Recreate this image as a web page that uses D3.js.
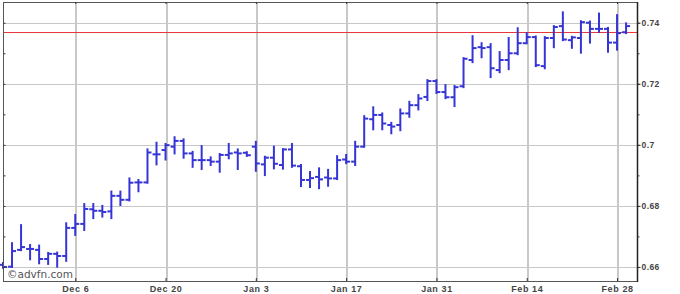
<!DOCTYPE html>
<html>
<head>
<meta charset="utf-8">
<script src="https://cdn.jsdelivr.net/npm/d3@7"></script>
<style>
  body { margin: 0; background: #fff; }
  svg { display: block; font-family: "Liberation Sans", Arial, sans-serif; }
</style>
</head>
<body>
<div id="chart"></div>
<script>
// trading days run Nov 24 2021 .. Mar 1 2022 (weekdays only)
const firstDay = "2021-11-24";
const lastDay = "2022-03-01";

const opens = [
  0.6607, 0.6601, 0.6656, 0.6659, 0.6656, 0.6626, 0.6643, 0.6636, 0.6728, 0.6741,
  0.6789, 0.6784, 0.6782, 0.6833, 0.6820, 0.6877, 0.6877, 0.6969, 0.6983, 0.6994,
  0.7013, 0.6972, 0.6950, 0.6950, 0.6945, 0.6967, 0.6975, 0.6974, 0.6994, 0.6936,
  0.6958, 0.6934, 0.6985, 0.6930, 0.6885, 0.6895, 0.6893, 0.6890, 0.6952, 0.6945,
  0.6994, 0.7084, 0.7098, 0.7065, 0.7065, 0.7103, 0.7130, 0.7157, 0.7209, 0.7173,
  0.7156, 0.7192, 0.7278, 0.7320, 0.7320, 0.7245, 0.7278, 0.7300, 0.7333, 0.7353,
  0.7258, 0.7350, 0.7389, 0.7343, 0.7350, 0.7400, 0.7380, 0.7380, 0.7335, 0.7369
];
const highs = [
  0.6613, 0.6678, 0.6737, 0.6672, 0.6670, 0.6646, 0.6647, 0.6743, 0.6770, 0.6806,
  0.6806, 0.6800, 0.6847, 0.6847, 0.6890, 0.6885, 0.6985, 0.7007, 0.7003, 0.7025,
  0.7018, 0.6977, 0.6996, 0.6959, 0.6970, 0.7003, 0.6985, 0.6976, 0.7010, 0.6961,
  0.6994, 0.6986, 0.7003, 0.6934, 0.6911, 0.6923, 0.6918, 0.6963, 0.6967, 0.7010,
  0.7094, 0.7123, 0.7103, 0.7072, 0.7116, 0.7141, 0.7163, 0.7212, 0.7212, 0.7196,
  0.7193, 0.7284, 0.7356, 0.7333, 0.7330, 0.7304, 0.7350, 0.7382, 0.7366, 0.7355,
  0.7353, 0.7389, 0.7434, 0.7354, 0.7405, 0.7404, 0.7430, 0.7383, 0.7425, 0.7398
];
const lows = [
  0.6597, 0.6600, 0.6655, 0.6625, 0.6612, 0.6610, 0.6601, 0.6620, 0.6705, 0.6721,
  0.6760, 0.6765, 0.6760, 0.6803, 0.6818, 0.6848, 0.6876, 0.6936, 0.6952, 0.6972,
  0.6958, 0.6928, 0.6921, 0.6934, 0.6912, 0.6956, 0.6921, 0.6964, 0.6915, 0.6901,
  0.6923, 0.6922, 0.6928, 0.6865, 0.6862, 0.6858, 0.6866, 0.6888, 0.6940, 0.6934,
  0.6994, 0.7051, 0.7051, 0.7038, 0.7048, 0.7092, 0.7116, 0.7147, 0.7170, 0.7153,
  0.7127, 0.7189, 0.7271, 0.7287, 0.7222, 0.7238, 0.7248, 0.7297, 0.7333, 0.7258,
  0.7251, 0.7320, 0.7343, 0.7318, 0.7302, 0.7335, 0.7370, 0.7305, 0.7312, 0.7366
];
const closes = [
  0.6600, 0.6652, 0.6665, 0.6659, 0.6626, 0.6643, 0.6636, 0.6728, 0.6741, 0.6790,
  0.6784, 0.6780, 0.6833, 0.6820, 0.6876, 0.6877, 0.6975, 0.6969, 0.6999, 0.7013,
  0.6972, 0.6950, 0.6950, 0.6945, 0.6967, 0.6972, 0.6972, 0.6966, 0.6939, 0.6958,
  0.6938, 0.6985, 0.6932, 0.6885, 0.6891, 0.6887, 0.6890, 0.6950, 0.6945, 0.6994,
  0.7086, 0.7098, 0.7070, 0.7060, 0.7103, 0.7130, 0.7152, 0.7209, 0.7173, 0.7156,
  0.7189, 0.7282, 0.7317, 0.7317, 0.7251, 0.7278, 0.7300, 0.7333, 0.7353, 0.7261,
  0.7350, 0.7386, 0.7345, 0.7352, 0.7402, 0.7380, 0.7380, 0.7335, 0.7366, 0.7389
];

const tickDates = ["2021-12-06", "2021-12-20", "2022-01-03", "2022-01-17", "2022-01-31", "2022-02-14", "2022-02-28"];
const tickLabels = ["Dec 6", "Dec 20", "Jan 3", "Jan 17", "Jan 31", "Feb 14", "Feb 28"];
const yTicks = [0.66, 0.68, 0.7, 0.72, 0.74];
const yMinor = [0.66, 0.67, 0.68, 0.69, 0.7, 0.71, 0.72, 0.73, 0.74];
const refPrice = 0.7369;

const width = 680;
const height = 294;
const plot = { left: 3, right: 637, top: 2, bottom: 281 };

const fmtDay = d3.timeFormat("%Y-%m-%d");
const days = d3.timeDay
  .range(new Date(firstDay + "T00:00"), d3.timeDay.offset(new Date(lastDay + "T00:00"), 1))
  .filter((d) => d.getDay() !== 0 && d.getDay() !== 6)
  .map(fmtDay);

const data = days.map((day, i) => ({
  day,
  open: opens[i],
  high: highs[i],
  low: lows[i],
  close: closes[i],
}));

const step = 9.03;
const x = d3
  .scalePoint()
  .domain(days)
  .range([plot.left, plot.left + step * (days.length - 1)]);

const y = d3
  .scaleLinear()
  .domain([0.6554, 0.7468])
  .range([plot.bottom, plot.top]);

const svg = d3
  .select("#chart")
  .append("svg")
  .attr("width", width)
  .attr("height", height);

svg.append("rect").attr("width", width).attr("height", height).attr("fill", "#fff");

// grid
svg
  .append("g")
  .selectAll("line")
  .data(yTicks)
  .join("line")
  .attr("x1", plot.left)
  .attr("x2", plot.right)
  .attr("y1", (d) => Math.round(y(d)) + 0.5)
  .attr("y2", (d) => Math.round(y(d)) + 0.5)
  .attr("stroke", "#c8c8c8")
  .attr("stroke-width", 1);

svg
  .append("g")
  .selectAll("line")
  .data(tickDates)
  .join("line")
  .attr("x1", (d) => Math.round(x(d)) + 1)
  .attr("x2", (d) => Math.round(x(d)) + 1)
  .attr("y1", plot.top)
  .attr("y2", plot.bottom)
  .attr("stroke", "#c8c8c8")
  .attr("stroke-width", 2);

// reference price line
svg
  .append("line")
  .attr("x1", plot.left)
  .attr("x2", plot.right)
  .attr("y1", Math.round(y(refPrice)) + 0.5)
  .attr("y2", Math.round(y(refPrice)) + 0.5)
  .attr("stroke", "#e8383c")
  .attr("stroke-width", 1.2);

// OHLC bars
const bars = svg.append("g").attr("stroke", "#3535d6").attr("stroke-width", 2);

bars
  .selectAll(".hl")
  .data(data)
  .join("line")
  .attr("class", "hl")
  .attr("x1", (d) => x(d.day))
  .attr("x2", (d) => x(d.day))
  .attr("y1", (d) => y(d.high) - 1)
  .attr("y2", (d) => y(d.low) + 1);

bars
  .selectAll(".op")
  .data(data)
  .join("line")
  .attr("class", "op")
  .attr("x1", (d) => x(d.day) - 4)
  .attr("x2", (d) => x(d.day))
  .attr("y1", (d) => y(d.open))
  .attr("y2", (d) => y(d.open));

bars
  .selectAll(".cl")
  .data(data)
  .join("line")
  .attr("class", "cl")
  .attr("x1", (d) => x(d.day))
  .attr("x2", (d) => x(d.day) + 4)
  .attr("y1", (d) => y(d.close))
  .attr("y2", (d) => y(d.close));

// frame
svg
  .append("rect")
  .attr("x", plot.left + 0.5)
  .attr("y", plot.top + 0.5)
  .attr("width", plot.right - plot.left)
  .attr("height", plot.bottom - plot.top)
  .attr("fill", "none")
  .attr("stroke", "#555")
  .attr("stroke-width", 1);

svg
  .append("line")
  .attr("x1", plot.right + 0.5)
  .attr("x2", plot.right + 0.5)
  .attr("y1", plot.top)
  .attr("y2", plot.bottom + 1)
  .attr("stroke", "#222")
  .attr("stroke-width", 1.5);

// right axis
const yAxis = svg
  .append("g")
  .attr("transform", `translate(${plot.right + 0.5},0)`)
  .call(
    d3.axisRight(y).tickValues(yTicks).tickSize(3).tickPadding(1).tickFormat(d3.format("~g"))
  );
yAxis.select(".domain").remove();
yAxis.selectAll(".tick line").attr("stroke", "#333");
yAxis
  .selectAll(".tick text")
  .attr("font-family", "'Liberation Sans', Arial, sans-serif")
  .attr("font-size", 8.5)
  .attr("font-weight", "bold")
  .attr("fill", "#444")
  .attr("letter-spacing", 0.4);

const yMinorAxis = svg
  .append("g")
  .attr("transform", `translate(${plot.right + 0.5},0)`)
  .call(d3.axisRight(y).tickValues(yMinor).tickSize(2).tickFormat(""));
yMinorAxis.select(".domain").remove();
yMinorAxis.selectAll(".tick line").attr("stroke", "#333");

// little inward ticks on left edge
const yLeft = svg
  .append("g")
  .attr("transform", `translate(${plot.left + 0.5},0)`)
  .call(d3.axisRight(y).tickValues(yMinor).tickSize(2).tickFormat(""));
yLeft.select(".domain").remove();
yLeft.selectAll(".tick line").attr("stroke", "#333");

// bottom axis labels
const xAxis = svg
  .append("g")
  .attr("transform", `translate(0,${plot.bottom})`)
  .call(
    d3.axisTop(x).tickValues(tickDates).tickSize(3).tickFormat((d, i) => tickLabels[i])
  );
xAxis.select(".domain").remove();
xAxis.selectAll(".tick line").attr("stroke", "#333");
xAxis
  .selectAll(".tick text")
  .attr("y", 11)
  .attr("dy", 0)
  .attr("font-family", "'Liberation Sans', Arial, sans-serif")
  .attr("font-size", 9)
  .attr("font-weight", "bold")
  .attr("fill", "#444")
  .attr("letter-spacing", 0.6);

const xTop = svg
  .append("g")
  .attr("transform", `translate(0,${plot.top})`)
  .call(d3.axisBottom(x).tickValues(tickDates).tickSize(2).tickFormat(""));
xTop.select(".domain").remove();
xTop.selectAll(".tick line").attr("stroke", "#333");

// watermark
svg
  .append("text")
  .attr("x", 7)
  .attr("y", 278)
  .attr("font-family", "'DejaVu Sans', Verdana, sans-serif")
  .attr("font-size", 10.5)
  .attr("fill", "#555")
  .text("©advfn.com");
</script>
</body>
</html>
